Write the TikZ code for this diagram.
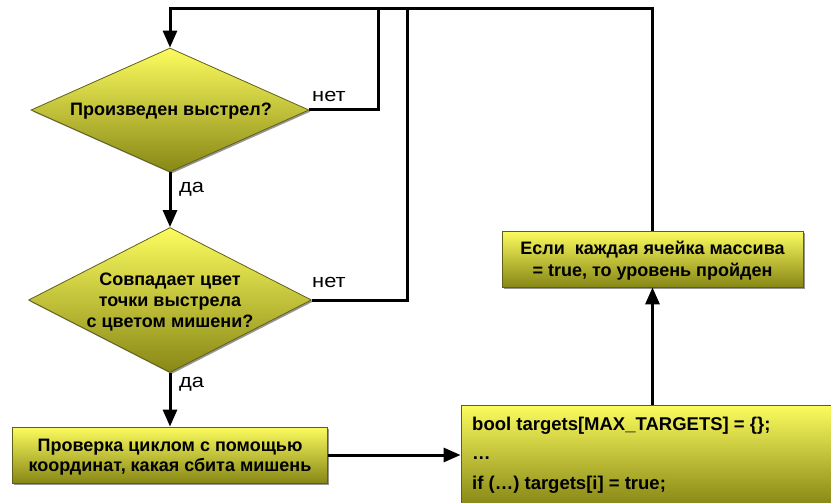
\documentclass[tikz,border=0pt]{standalone}
\usepackage{fontspec}
\setmainfont{Liberation Sans}
\usetikzlibrary{shapes.geometric,arrows.meta}
\definecolor{ytop}{RGB}{252,252,95}
\definecolor{ybot}{RGB}{135,135,22}
\definecolor{yedge}{RGB}{95,95,25}
\definecolor{shad}{RGB}{150,150,150}
\tikzset{
  blockfill/.style={shading=axis, top color=ytop, bottom color=ybot, draw=yedge, line width=0.8pt,
    preaction={fill=shad, transform canvas={shift={(1.6pt,-1.6pt)}}}},
  decision/.style={diamond, blockfill, inner sep=0pt},
  procbox/.style={rectangle, blockfill, inner sep=0pt},
  btxt/.style={font=\fontsize{18}{21}\selectfont\bfseries, align=center, inner sep=0pt},
  ctxt/.style={font=\fontsize{18.5}{21}\selectfont\bfseries, anchor=base west, inner sep=0pt},
  lbl/.style={font=\fontsize{19}{20}\selectfont, inner sep=0pt},
  conn/.style={line width=3pt},
  arr/.style={line width=3pt, -{Triangle[width=14pt,length=17pt]}},
}
\begin{document}
\begin{tikzpicture}[x=1pt,y=1pt]
\useasboundingbox (0,0) rectangle (831,-503);
\clip (0,0) rectangle (831,-503);
% nodes
\node[decision, minimum width=278pt, minimum height=124pt] (d1) at (170,-110) {};
\node[btxt] (d1t) at (171,-111) {Произведен выстрел?};
\node[decision, minimum width=283pt, minimum height=145pt] (d2) at (170,-300) {};
\node[btxt] (d2t) at (170,-302) {Совпадает цвет\\точки выстрела\\с цветом мишени?};
\node[procbox, minimum width=315pt, minimum height=56pt] (b1) at (170,-455) {};
\node[btxt, font=\fontsize{18}{20.5}\selectfont\bfseries] (b1t) at (170,-457) {Проверка циклом с помощью\\координат, какая сбита мишень};
\node[procbox, minimum width=301pt, minimum height=56pt] (b2) at (652.5,-259) {};
\node[btxt, font=\fontsize{18}{22}\selectfont\bfseries] (b2t) at (652.5,-261) {Если\ \ каждая ячейка массива\\= true, то уровень пройден};
\node[procbox, minimum width=383pt, minimum height=100pt] (b3) at (652.5,-455) {};
\node[ctxt] (c1) at (472,-430) {bool targets[MAX\_TARGETS] = \{\};};
\node[ctxt] (c2) at (472,-459) {\dots};
\node[ctxt] (c3) at (472,-489) {if (\dots) targets[i] = true;};
% labels
\node[lbl, anchor=base west] (n1) at (312,-102) {\scalebox{1.15}[1]{нет}};
\node[lbl, anchor=base west] (n2) at (312,-287) {\scalebox{1.15}[1]{нет}};
\node[lbl, anchor=base west] (y1) at (179,-193) {\scalebox{1.15}[1]{да}};
\node[lbl, anchor=base west] (y2) at (179,-387) {\scalebox{1.15}[1]{да}};
% routing coordinates
\coordinate (tr) at (652.5,-9);
\coordinate (tl) at (170,-9);
\coordinate (r1) at (378,-110);
\coordinate (t1) at (378,-9);
\coordinate (r2) at (407,-300);
\coordinate (t2) at (407,-9);
% connectors
\draw[arr] (b2.north) -- (tr) -- (tl) -- (d1.north);
\draw[conn] (d1.east) -- (r1) -- (t1);
\draw[conn] (d2.east) -- (r2) -- (t2);
\draw[arr] (d1.south) -- (d2.north);
\draw[arr] (d2.south) -- (b1.north);
\draw[arr] (b1.east) -- (b3.west);
\draw[arr] (b3.north) -- (b2.south);
\end{tikzpicture}
\end{document}
